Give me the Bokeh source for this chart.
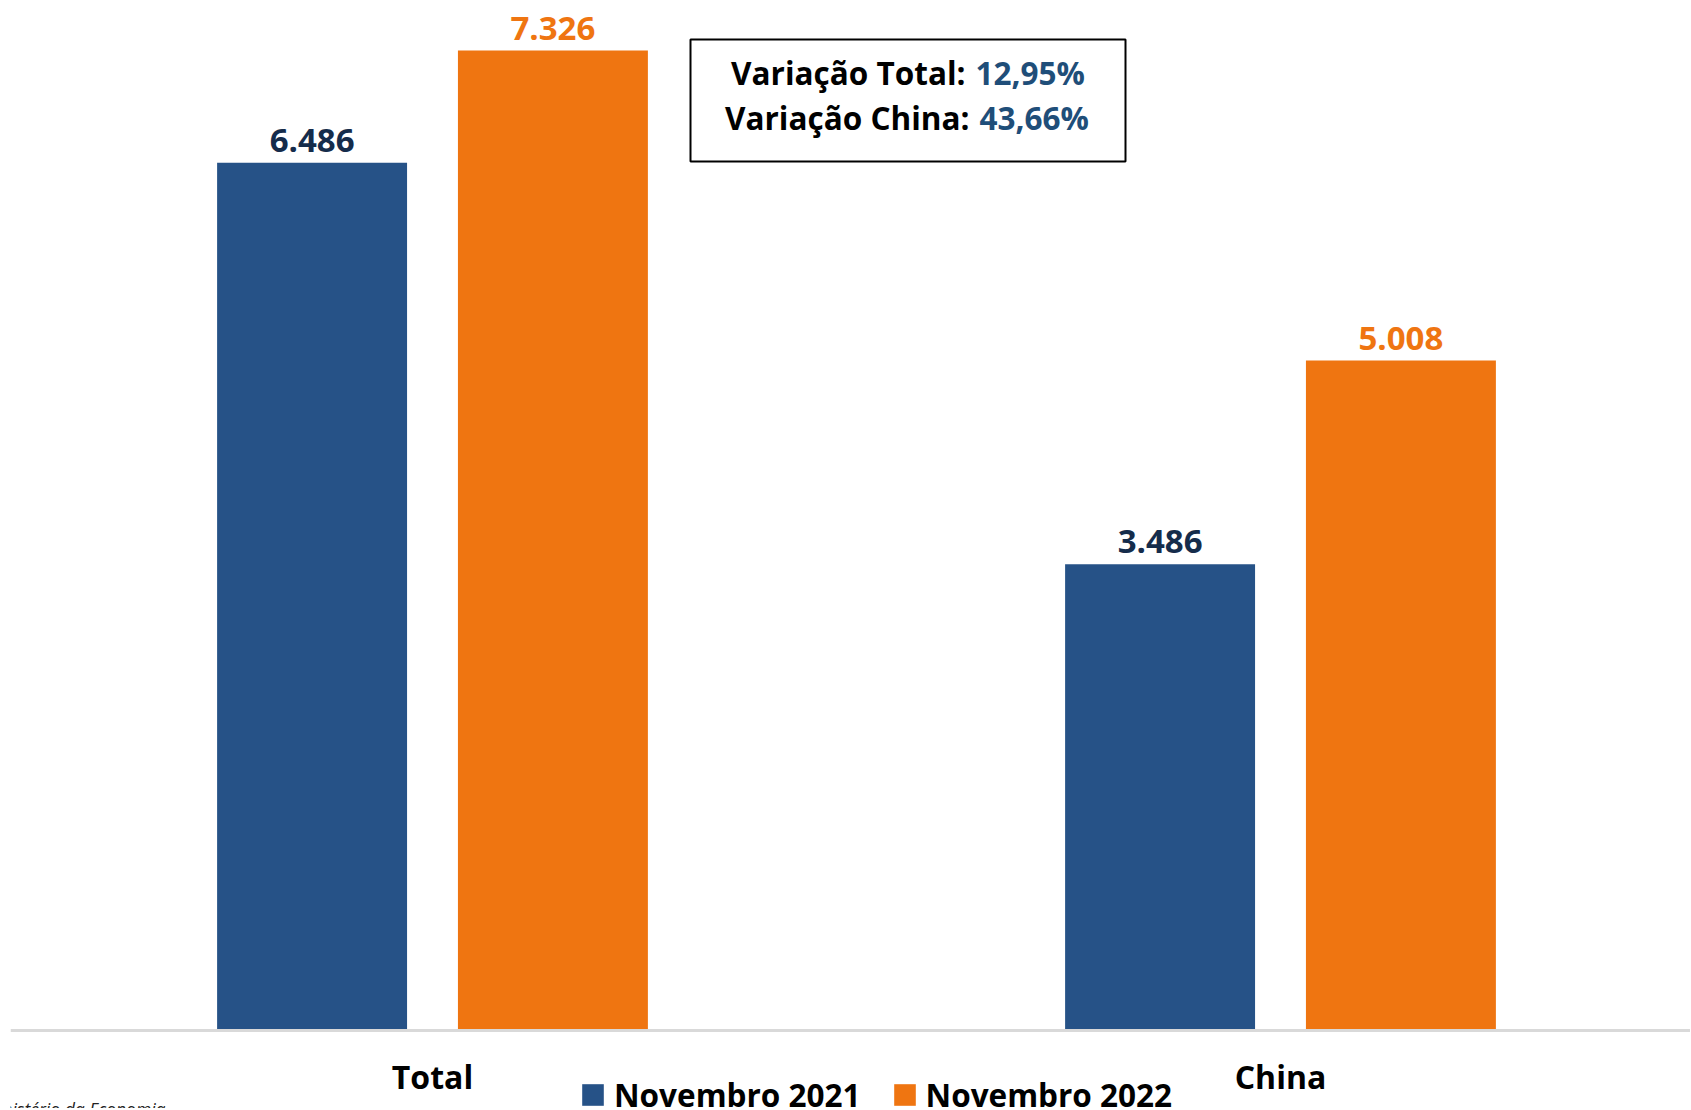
from bokeh.plotting import figure
from bokeh.models import (Range1d, Legend, LegendItem, Label, LabelSet,
                          BoxAnnotation, ColumnDataSource, Span)
from bokeh.core.properties import value
from bokeh.transform import dodge
from bokeh.embed import file_html
from bokeh.resources import INLINE

# ---- data ----
categories = ["Total", "China"]
series = ["Novembro 2021", "Novembro 2022"]
values_2021 = [6486, 3486]
values_2022 = [7326, 5008]
variacao_labels = ["Variação Total:", "Variação China:"]
variacao_values = ["12,95%", "43,66%"]
source_text = "Fonte: Ministério da Economia"

BLUE = "#265287"
ORANGE = "#EF7511"
NAVY = "#152C4B"
NUM_BLUE = "#1F4E79"
FONT = "Open Sans"

# ---- layout geometry (canvas px) ----
W, H = 1690, 1108
FRAME_LEFT = 10
BASE_PY = 1030            # pixel row of value 0
PX_PER_CAT = 848.0
PX_PER_UNIT = 980.0 / 7326.0
X0 = -(432 - FRAME_LEFT) / PX_PER_CAT
X1 = X0 + (W - FRAME_LEFT) / PX_PER_CAT
Y0 = (BASE_PY - H) / PX_PER_UNIT
Y1 = BASE_PY / PX_PER_UNIT


def px2x(px):
    return X0 + (px - FRAME_LEFT) / PX_PER_CAT


def py2y(py):
    return (BASE_PY - py) / PX_PER_UNIT


def fmt(v):
    return f"{v:,}".replace(",", ".")


src = ColumnDataSource(dict(
    x=list(range(len(categories))),
    cat=categories,
    laby=[py2y(1075.5)] * len(categories),
    v2021=values_2021,
    v2022=values_2022,
    t2021=[fmt(v) for v in values_2021],
    t2022=[fmt(v) for v in values_2022],
))

p = figure(width=W, height=H, x_range=Range1d(X0, X1), y_range=Range1d(Y0, Y1),
           output_backend="svg", toolbar_location=None,
           min_border_left=FRAME_LEFT, min_border_right=0, min_border_top=0, min_border_bottom=0)
p.outline_line_color = None
p.grid.visible = False
p.xaxis.visible = False
p.yaxis.visible = False
p.background_fill_color = "white"
p.border_fill_color = "white"

OFF = 0.142
BW = 0.224
r1 = p.vbar(x=dodge("x", -OFF, range=p.x_range), top="v2021", bottom=0, width=BW, source=src,
            fill_color=BLUE, line_color=None)
r2 = p.vbar(x=dodge("x", OFF, range=p.x_range), top="v2022", bottom=0, width=BW, source=src,
            fill_color=ORANGE, line_color=None)

# baseline (category axis line)
p.add_layout(Span(location=0, dimension="width", line_color="#D9D9D9", line_width=3))

# category labels
p.text(x="x", y="laby", text="cat", source=src, text_align="center",
       text_baseline="alphabetic", text_font=value(FONT), text_font_style="bold",
       text_font_size="32px", text_color="black")

# value labels
for field, tfield, off, col in [("v2021", "t2021", -OFF, NAVY), ("v2022", "t2022", OFF, ORANGE)]:
    ls = LabelSet(x=dodge("x", off, range=p.x_range), y=field, text=tfield, source=src,
                  text_align="center", text_baseline="alphabetic", y_offset=11,
                  text_font=value(FONT), text_font_style="bold", text_font_size="33px",
                  text_color=col)
    p.add_layout(ls)

# variation box
box = BoxAnnotation(left=px2x(690), right=px2x(1125), top=py2y(39), bottom=py2y(161),
                    fill_color="white", fill_alpha=1.0, line_color="black", line_alpha=1.0,
                    line_width=2)
p.add_layout(box)

split_black = [965, 969]
split_blue = [975, 979]
text_rows = [72, 117]
for lab, val, sb, sbl, bl in zip(variacao_labels, variacao_values, split_black, split_blue, text_rows):
    p.add_layout(Label(x=px2x(sb), y=py2y(bl), text=lab, text_align="right",
                       text_baseline="alphabetic", text_font=FONT, text_font_style="bold",
                       text_font_size="31.5px", text_color="black"))
    p.add_layout(Label(x=px2x(sbl), y=py2y(bl), text=val, text_align="left",
                       text_baseline="alphabetic", text_font=FONT, text_font_style="bold",
                       text_font_size="31.5px", text_color=NUM_BLUE))

# source note (cut off at left/bottom edge, as in the original)
p.add_layout(Label(x=px2x(165), y=py2y(1108), text=source_text, text_align="right",
                   text_baseline="alphabetic", text_font=FONT, text_font_style="italic",
                   text_font_size="17.5px", text_color="#222222"))

legend = Legend(items=[LegendItem(label=series[0], renderers=[r1]),
                       LegendItem(label=series[1], renderers=[r2])],
                orientation="horizontal", location=(569, -8),
                glyph_width=27, glyph_height=27, label_standoff=8, spacing=30,
                padding=0, margin=0, border_line_color=None, background_fill_alpha=0,
                label_text_font=FONT, label_text_font_style="bold",
                label_text_font_size="31.5px", label_text_color="black")
p.add_layout(legend)

open("out.html", "w").write(file_html(p, INLINE))
